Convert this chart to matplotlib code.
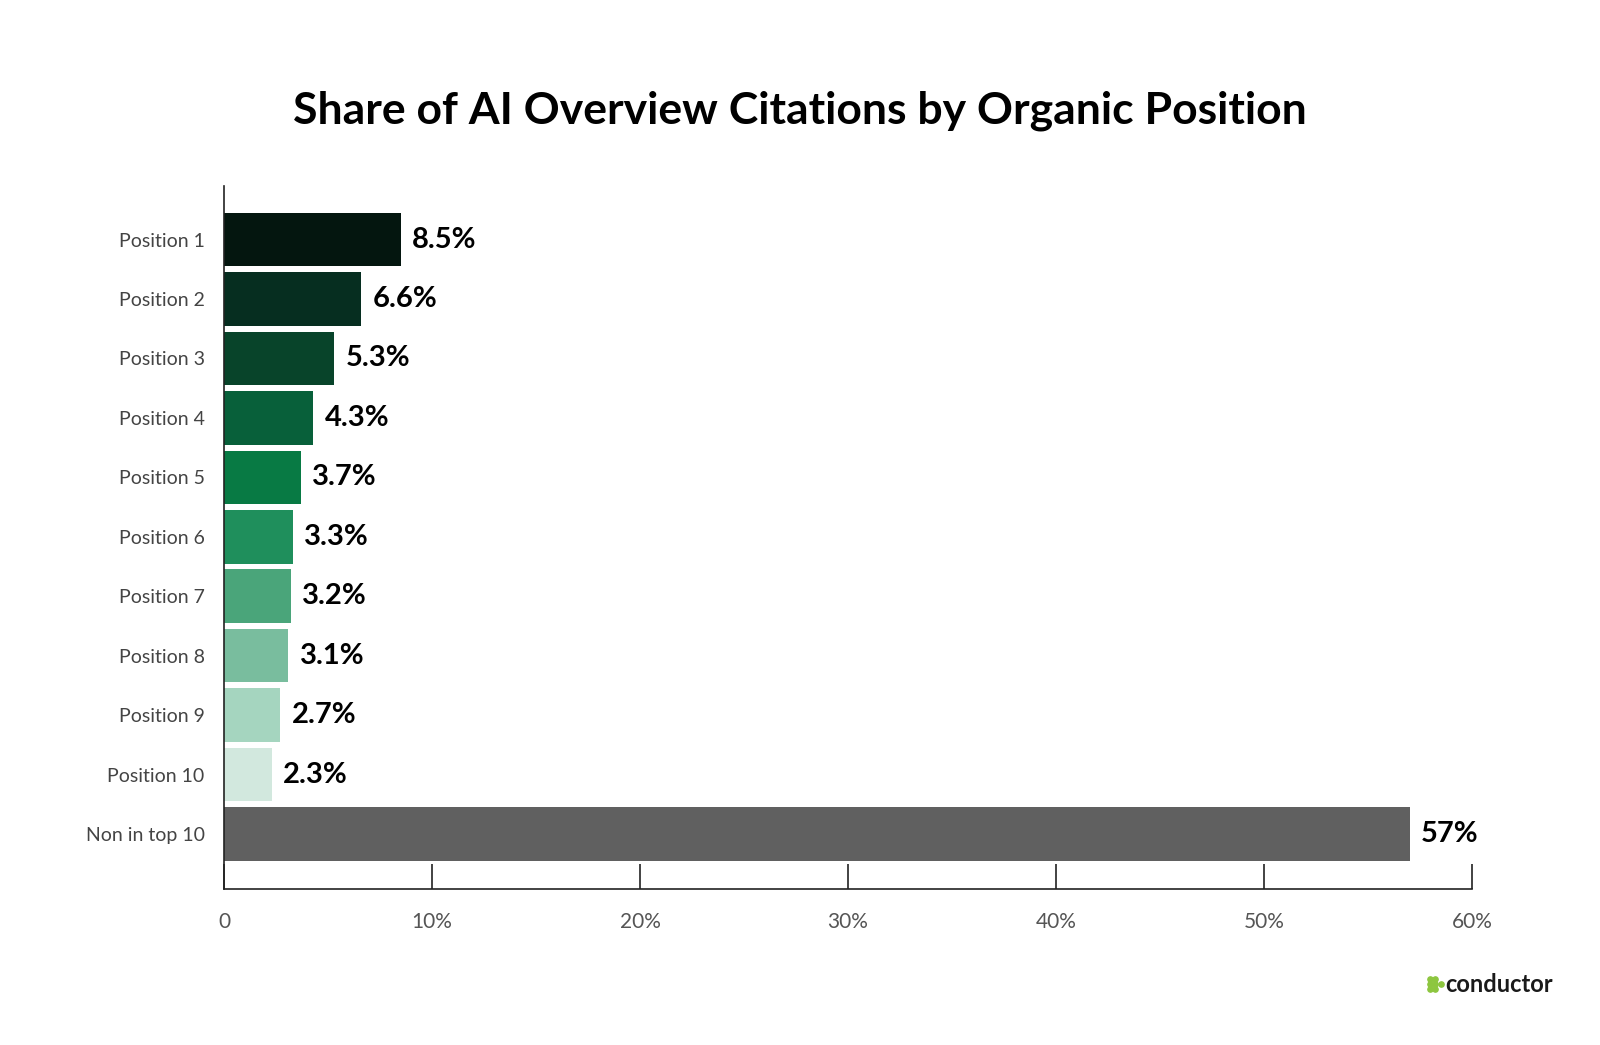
import matplotlib.pyplot as plt
from matplotlib.ticker import FixedLocator

labels = ["Position 1", "Position 2", "Position 3", "Position 4", "Position 5",
          "Position 6", "Position 7", "Position 8", "Position 9", "Position 10",
          "Non in top 10"]
values = [8.5, 6.6, 5.3, 4.3, 3.7, 3.3, 3.2, 3.1, 2.7, 2.3, 57]
value_text = ["8.5%", "6.6%", "5.3%", "4.3%", "3.7%", "3.3%", "3.2%", "3.1%",
              "2.7%", "2.3%", "57%"]
colors = ["#04160f", "#062e20", "#08442a", "#08603a", "#087a44", "#1f8f5c",
          "#4aa57a", "#79bd9e", "#a5d5bf", "#d2e8de", "#606060"]
xticks = [0, 10, 20, 30, 40, 50, 60]
xtick_labels = ["0", "10%", "20%", "30%", "40%", "50%", "60%"]

plt.rcParams['font.family'] = ['Lato', 'DejaVu Sans']

fig = plt.figure(figsize=(16, 10.45), dpi=100)
ax = fig.add_axes([0.140, 0.149, 0.780, 0.673])

y = list(range(len(labels)))
ax.barh(y, values, height=0.9, color=colors)
for yi, v, t in zip(y, values, value_text):
    ax.text(v + 0.55, yi, t, va='center', ha='left', fontsize=21,
            fontweight='bold', color='black')

ax.set_ylim(10.93, -0.9)
ax.set_xlim(0, 60)
ax.set_yticks(y)
ax.set_yticklabels(labels, fontsize=14, color='#444444')
ax.tick_params(axis='y', length=0, pad=14)
ax.xaxis.set_major_locator(FixedLocator(xticks))
ax.set_xticklabels(xtick_labels, fontsize=15, color='#555555')
ax.tick_params(axis='x', direction='in', length=18, width=1.2, pad=16, color='#222222')
for s in ['top', 'right']:
    ax.spines[s].set_visible(False)
for s in ['left', 'bottom']:
    ax.spines[s].set_color('#222222')
    ax.spines[s].set_linewidth(1.2)

fig.text(0.5, 0.894, "Share of AI Overview Citations by Organic Position",
         ha='center', va='center', fontsize=32, fontweight='bold')

# logo: small green dots
dots_x = [0.8935, 0.8970, 0.8935, 0.8970, 0.9005, 0.8935, 0.8970]
dots_y = [0.0635, 0.0635, 0.0585, 0.0585, 0.0585, 0.0535, 0.0535]
fig.add_artist(plt.Line2D(dots_x, dots_y, transform=fig.transFigure, ls='none',
                          marker='o', markersize=3.8, color='#8dc63f'))
fig.text(0.903, 0.058, "conductor", fontsize=17, fontweight='bold', ha='left',
         va='center', color='#1a1a1a')

fig.savefig("out.png", dpi=100, facecolor='white')
